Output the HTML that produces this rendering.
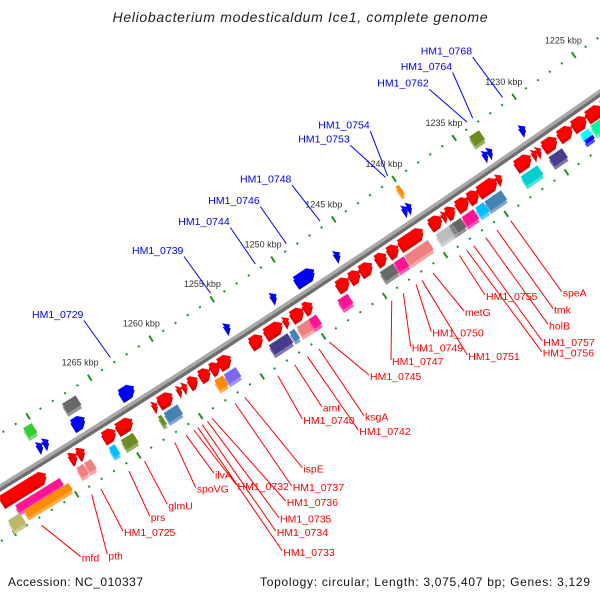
<!DOCTYPE html>
<html><head><meta charset="utf-8"><style>
html,body{margin:0;padding:0;background:#fff}
svg{display:block;font-family:"Liberation Sans",sans-serif}
</style></head><body>
<svg id="map" width="600" height="600" viewBox="0 0 600 600" xmlns="http://www.w3.org/2000/svg">
<rect width="600" height="600" fill="#fff"/>
<text x="300" y="22" text-anchor="middle" font-style="italic" font-size="14" fill="#222" textLength="375">Heliobacterium modesticaldum Ice1, complete genome</text>
<g id="ticks"></g>
<g id="backbone"></g>
<g id="genes"></g>
<g id="labels"></g>
<text x="8" y="586" font-size="12" fill="#111" textLength="135">Accession: NC_010337</text>
<text x="590" y="586" font-size="12" fill="#111" text-anchor="end" textLength="330">Topology: circular; Length: 3,075,407 bp; Genes: 3,129</text>
</svg>
<script>
// ---- data (kbp) ----
const fwdCenter = [1272.81,1268.80,1268.18,1265.90,1264.66,1262.21,1261.35,1260.21,1259.79,1259.10,1258.15,1257.32,1256.53,1253.95,1252.55,1251.51,1250.61,1249.73,1246.86,1245.89,1244.96,1243.72,1242.73,1241.25,1239.23,1238.50,1237.99,1237.01,1236.11,1234.95,1233.97,1231.97,1231.03,1230.68,1229.75,1228.47,1227.29,1226.05,1224.79];
const fwdLength = [3.56,0.55,0.55,0.96,1.23,0.34,1.10,0.34,0.34,0.68,0.82,0.68,0.96,0.96,1.37,0.41,0.96,0.68,0.96,0.82,0.96,0.82,0.82,1.92,0.96,0.34,0.68,0.96,0.82,1.51,0.41,1.23,0.34,0.34,1.10,1.10,1.10,1.23,1.23];
const revCenter = [1270.34,1269.86,1267.23,1263.29,1255.12,1251.32,1248.78,1246.10,1240.51,1240.17,1233.84,1233.46,1230.73];
const revLength = [0.41,0.41,0.96,1.10,0.41,0.41,1.51,0.41,0.34,0.34,0.34,0.34,0.41];
const cogCenter = [1272.19,1271.85,1274.45,1268.80,1268.18,1266.23,1265.00,1262.36,1261.47,1257.58,1256.66,1252.71,1251.60,1250.72,1249.93,1247.45,1243.84,1242.83,1241.40,1239.18,1238.49,1238.08,1237.17,1236.18,1235.07,1232.06,1229.88,1227.42,1227.42,1226.38,1270.38,1267.02,1240.10,1233.71];
const cogLength = [3.56,3.56,0.96,0.55,0.55,0.48,0.96,0.27,1.10,0.68,0.96,1.51,0.41,0.96,0.62,0.82,1.10,0.82,1.92,1.23,0.41,0.68,0.96,0.68,1.37,1.37,1.10,0.68,0.68,0.96,0.68,1.10,0.27,0.82];
const cogLane = [27,36,38,29,29,29,29,29,29,29,29,29,29,29,29,29,29,29,29,29,29,29,29,29,29,29,29,26,32,27,-33,-33,-33,-33];
const cogHeight = [8,8,12,11,11,11,11,11,11,11,11,11,11,11,11,11,11,11,11,11,11,11,11,11,11,11,11,7,4,11,11,11,11,11];
const cogColor = ["#ff1493","#ff8c00","#bdb76b","#f08080","#f08080","#00bfff","#6b8e23","#6b8e23","#4682b4","#ff8c00","#7b68ee","#483d8b","#4682b4","#f08080","#ff1493","#ff1493","#696969","#ff1493","#f08080","#bdbdbd","#808080","#666666","#ff1493","#00bfff","#4682b4","#00ced1","#483d8b","#00ffff","#0000ff","#00fa9a","#32cd32","#696969","#ff8c00","#6b8e23"];
const tickStart = 1215, tickEnd = 1285;
const majorLabels = [1225,1230,1235,1240,1245,1250,1255,1260,1265];
const blueNames = ["HM1_0768","HM1_0764","HM1_0762","HM1_0754","HM1_0753","HM1_0748","HM1_0746","HM1_0744","HM1_0739","HM1_0729"];
const blueAnchor = [1230.68,1233.18,1233.66,1240.26,1240.43,1245.85,1248.64,1251.19,1254.87,1263.06];
const blueX = [420.7,400.7,377.3,318.3,298.3,240,208.3,178.3,132,32];
const blueY = [54.7,70,86.7,128.7,142.7,182.7,204,225,254,318];
const redNames = ["speA","tmk","holB","HM1_0757","HM1_0756","HM1_0755","metG","HM1_0750","HM1_0749","HM1_0751","HM1_0747","HM1_0745","amt","ksgA","HM1_0740","HM1_0742","ispE","HM1_0737","HM1_0732","HM1_0736","HM1_0735","HM1_0734","HM1_0733","ilvA","spoVG","glmU","prs","HM1_0725","pth","mfd"];
const redAnchor = [1235.01,1236.15,1237.07,1238.05,1238.62,1239.23,1241.40,1242.79,1243.84,1242.30,1244.79,1249.89,1252.71,1250.74,1254.08,1251.68,1256.77,1257.55,1260.9,1259.42,1259.8,1260.23,1260.58,1261.54,1262.45,1264.88,1266.14,1268.40,1269.14,1273.14];
const redX = [562.7,554,549,543.3,542.7,486,465,432.3,411.7,468.3,392,370,322.7,365,303.3,359.3,303.3,292.7,237.5,286.7,280,276.7,283.3,215,196.7,168.3,150.7,124,108.3,81.7];
const redY = [296.7,313.3,329.3,346,356.7,300,316,336.7,351.7,360,365,380,411.7,420.7,424,435,472.7,491,490,506,522.7,536,556,478.3,492.7,509.3,521,536,559.3,561.7];

// ---- axis mapping (arc) ----
const CX=-6153, CY=-9513, R0=11742, K0=1240, PX=14.6, PHI0=55.96*Math.PI/180;
function pt(k,r){const a=PHI0+(k-K0)*PX/R0;return [CX+(R0+r)*Math.cos(a), CY+(R0+r)*Math.sin(a)];}
const NS="http://www.w3.org/2000/svg";
function mk(tag,parent,attrs){const e=document.createElementNS(NS,tag);for(const k in attrs)e.setAttribute(k,attrs[k]);parent.appendChild(e);return e;}
const P=a=>a.map(p=>p[0].toFixed(1)+","+p[1].toFixed(1)).join(" ");

// ticks
const gT=document.getElementById('ticks');
for(let k=tickStart;k<=tickEnd;k++){
  const major=(k%5===0);
  [-46,46].forEach(r=>{
    const h=major?3.5:1;
    const a=pt(k,r-h), b=pt(k,r+h);
    const l=mk('line',gT,{x1:a[0],y1:a[1],x2:b[0],y2:b[1],stroke:'#1f8f1f','stroke-width':2});
    
    
  });
}
majorLabels.forEach(k=>{
  const p=pt(k,-64);
  const t=mk('text',gT,{x:p[0],y:p[1]+3,'text-anchor':'middle','font-size':9,fill:'#333'});
  t.textContent=k+' kbp';
  
  
});

// backbone
const gB=document.getElementById('backbone');
function arc(r){const a=[];for(let k=tickStart;k<=tickEnd;k+=1)a.push(pt(k,r));return P(a);}
const b1=mk('polyline',gB,{points:arc(1.5),fill:'none',stroke:'#6e6e6e','stroke-width':4});


const b2=mk('polyline',gB,{points:arc(-1.5),fill:'none',stroke:'#a8a8a8','stroke-width':3.5});



// genes
const gG=document.getElementById('genes');
function shape(c,len,r,h,arrow){
  const k1=c-len/2,k2=c+len/2;
  if(!arrow) return [pt(k2,r-h/2),pt(k1,r-h/2),pt(k1,r+h/2),pt(k2,r+h/2)];
  const tip=Math.min(len,6/PX);
  return [pt(k2,r-h/2),pt(k1+tip,r-h/2),pt(k1,r),pt(k1+tip,r+h/2),pt(k2,r+h/2)];
}
function drawGene(c,len,r,h,color,arrow,name){
  const s=shape(c,len,r,h,arrow);
  const sh=s.map(p=>[p[0]+0.5,p[1]+3.5]);
  const e1=mk('polygon',gG,{points:P(sh),fill:color});
  
  
  const e2=mk('polygon',gG,{points:P(sh),fill:arrow?'#000':'#fff','fill-opacity':arrow?0.15:0.3});
  
  
  const e3=mk('polygon',gG,{points:P(s),fill:color});
  
  
}
fwdCenter.forEach((c,i)=>drawGene(c,fwdLength[i],12,11,'#ff0000',true,'forward-gene'));
revCenter.forEach((c,i)=>drawGene(c,revLength[i],-15,11,'#0000ff',true,'reverse-gene'));
cogCenter.forEach((c,i)=>drawGene(c,cogLength[i],cogLane[i],cogHeight[i],cogColor[i],false,'cog-gene'));

// labels
const gL=document.getElementById('labels');
blueNames.forEach((n,i)=>{
  const a=pt(blueAnchor[i],-52);
  const l=mk('line',gL,{x1:a[0],y1:a[1],x2:blueX[i]+52,y2:blueY[i]+2.5,stroke:'#0000ff','stroke-width':1});
  
  
  const t=mk('text',gL,{x:blueX[i],y:blueY[i],'font-size':10.5,fill:'#0000ff'});
  t.textContent=n;
  
  
});
redNames.forEach((n,i)=>{
  const a=pt(redAnchor[i],54);
  const l=mk('line',gL,{x1:a[0],y1:a[1],x2:redX[i]-1,y2:redY[i]-5,stroke:'#ff0000','stroke-width':1});
  
  
  const t=mk('text',gL,{x:redX[i],y:redY[i],'font-size':10.5,fill:'#ff0000'});
  t.textContent=n;
  
  
});
</script>
</body></html>
